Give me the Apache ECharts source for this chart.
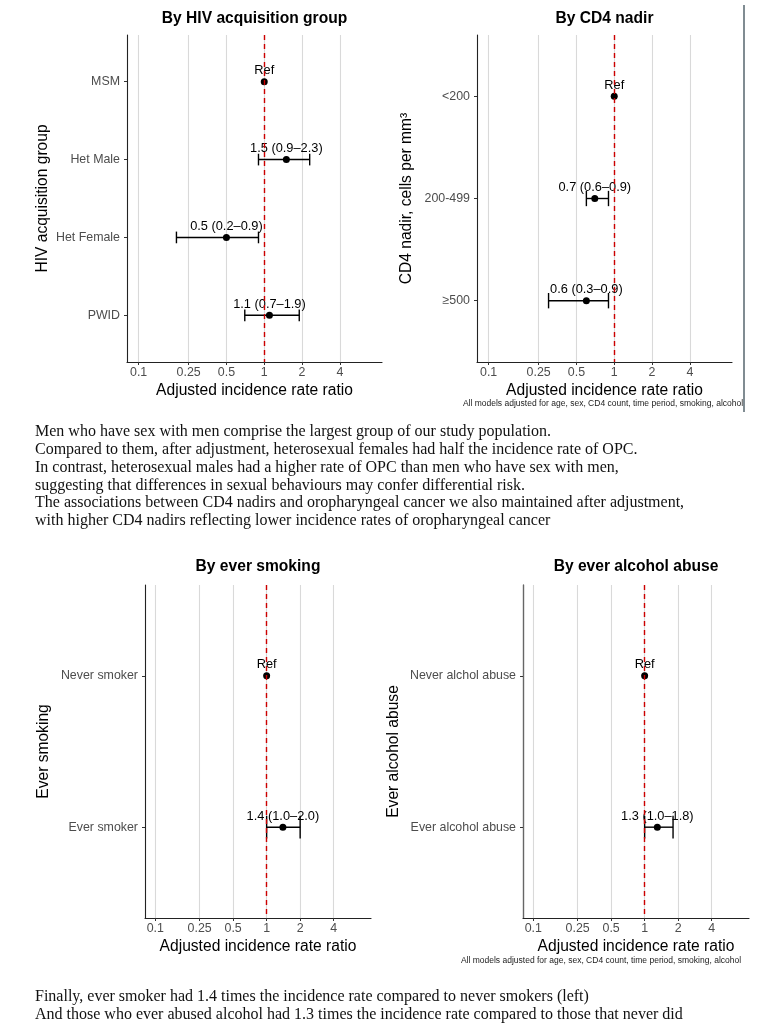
<!DOCTYPE html>
<html>
<head>
<meta charset="utf-8">
<title>OPC incidence rate ratios</title>
<script src="https://cdn.jsdelivr.net/npm/echarts@6/dist/echarts.min.js"></script>
<style>
  html, body { margin: 0; padding: 0; background: #fff; }
  #main { width: 779px; height: 1030px; }
</style>
</head>
<body>
<div id="main"></div>
<script>
  // x axis (log scale) ticks and range
  const xTicks = [0.1, 0.25, 0.5, 1, 2, 4];
  const xMin = 0.0808;
  const xMax = 8.66;

  // By HIV acquisition group
  const hivGroups = ['MSM', 'Het Male', 'Het Female', 'PWID'];
  const hivIrr = [1, 1.5, 0.5, 1.1];
  const hivLow = [null, 0.9, 0.2, 0.7];
  const hivHigh = [null, 2.3, 0.9, 1.9];
  const hivText = ['Ref', '1.5 (0.9–2.3)', '0.5 (0.2–0.9)', '1.1 (0.7–1.9)'];

  // By CD4 nadir
  const cd4Groups = ['<200', '200-499', '≥500'];
  const cd4Irr = [1, 0.7, 0.6];
  const cd4Low = [null, 0.6, 0.3];
  const cd4High = [null, 0.9, 0.9];
  const cd4Text = ['Ref', '0.7 (0.6–0.9)', '0.6 (0.3–0.9)'];

  // By ever smoking
  const smokeGroups = ['Never smoker', 'Ever smoker'];
  const smokeIrr = [1, 1.4];
  const smokeLow = [null, 1.0];
  const smokeHigh = [null, 2.0];
  const smokeText = ['Ref', '1.4 (1.0–2.0)'];

  // By ever alcohol abuse
  const alcGroups = ['Never alchol abuse', 'Ever alcohol abuse'];
  const alcIrr = [1, 1.3];
  const alcLow = [null, 1.0];
  const alcHigh = [null, 1.8];
  const alcText = ['Ref', '1.3 (1.0–1.8)'];

  const panels = [
    { title: 'By HIV acquisition group', yName: 'HIV acquisition group', groups: hivGroups, irr: hivIrr, low: hivLow, high: hivHigh, text: hivText,
      box: { left: 127, top: 35, width: 255, height: 327 }, titleTop: 11, yGap: 76 },
    { title: 'By CD4 nadir', yName: 'CD4 nadir, cells per mm³', groups: cd4Groups, irr: cd4Irr, low: cd4Low, high: cd4High, text: cd4Text,
      box: { left: 477, top: 35, width: 255, height: 327 }, titleTop: 11, yGap: 62 },
    { title: 'By ever smoking', yName: 'Ever smoking', groups: smokeGroups, irr: smokeIrr, low: smokeLow, high: smokeHigh, text: smokeText,
      box: { left: 145, top: 585, width: 226, height: 333 }, titleTop: 559, yGap: 93 },
    { title: 'By ever alcohol abuse', yName: 'Ever alcohol abuse', groups: alcGroups, irr: alcIrr, low: alcLow, high: alcHigh, text: alcText,
      box: { left: 523, top: 585, width: 226, height: 333 }, titleTop: 559, yGap: 121 }
  ];

  const sans = 'Liberation Sans, Arial, sans-serif';
  const serif = 'Liberation Serif, Times New Roman, serif';

  // whisker with caps, cap height 0.15 category units
  function errorBar(params, api) {
    const y = api.value(2);
    const a = api.coord([api.value(0), y]);
    const b = api.coord([api.value(1), y]);
    const c = api.coord([api.value(0), y + 0.075]);
    const h = Math.abs(c[1] - a[1]);
    const style = { stroke: '#000', lineWidth: 1.4 };
    return {
      type: 'group',
      children: [
        { type: 'line', shape: { x1: a[0], y1: a[1], x2: b[0], y2: b[1] }, style: style },
        { type: 'line', shape: { x1: a[0], y1: a[1] - h, x2: a[0], y2: a[1] + h }, style: style },
        { type: 'line', shape: { x1: b[0], y1: b[1] - h, x2: b[0], y2: b[1] + h }, style: style }
      ]
    };
  }

  const grid = [], xAxis = [], yAxis = [], series = [], title = [];

  panels.forEach(function (p, k) {
    const yVals = p.groups.map(function (g, i) { return i + 1; });
    grid.push(p.box);
    title.push({
      text: p.title, left: p.box.left + p.box.width / 2, top: p.titleTop, textAlign: 'center', padding: 0,
      textStyle: { fontFamily: sans, fontSize: 15.6, fontWeight: 'bold', color: '#000' }
    });
    xAxis.push({
      gridIndex: k, type: 'log', logBase: 2, min: xMin, max: xMax,
      name: 'Adjusted incidence rate ratio', nameLocation: 'middle', nameGap: 21,
      nameTextStyle: { fontFamily: sans, fontSize: 15.6, color: '#000' },
      axisLine: { show: true, onZero: false, lineStyle: { color: '#222', width: 1.1 } },
      axisTick: { show: true, length: 3, customValues: xTicks, lineStyle: { color: '#333' } },
      axisLabel: {
        customValues: xTicks, margin: 5, fontFamily: sans, fontSize: 12.4, color: '#4d4d4d',
        formatter: function (v) { return String(Math.round(v * 100) / 100); }
      },
      splitLine: { show: true, lineStyle: { color: '#d9d9d9', width: 1.1 } }
    });
    yAxis.push({
      gridIndex: k, type: 'value', inverse: true, min: 0.4, max: p.groups.length + 0.6,
      name: p.yName, nameLocation: 'middle', nameGap: p.yGap, nameRotate: 90,
      nameTextStyle: { fontFamily: sans, fontSize: 15.6, color: '#000' },
      axisLine: { show: true, onZero: false, lineStyle: { color: k === 3 ? '#666' : '#222', width: k === 3 ? 1.4 : 1.1 } },
      axisTick: { show: true, length: 3, customValues: yVals, lineStyle: { color: '#333' } },
      axisLabel: {
        customValues: yVals, margin: 7, fontFamily: sans, fontSize: 12.4, color: '#4d4d4d',
        formatter: function (v) { return p.groups[Math.round(v) - 1]; }
      },
      splitLine: { show: false }
    });

    const bars = [];
    p.groups.forEach(function (g, i) {
      if (p.low[i] != null) bars.push([p.low[i], p.high[i], i + 1]);
    });
    series.push({
      type: 'custom', xAxisIndex: k, yAxisIndex: k, z: 2,
      renderItem: errorBar, encode: { x: [0, 1], y: 2 }, data: bars,
      markLine: {
        silent: true, symbol: 'none', label: { show: false },
        lineStyle: { color: '#cc0000', type: [5, 4], width: 1.4 },
        data: [{ xAxis: 1 }]
      }
    });
    series.push({
      type: 'scatter', xAxisIndex: k, yAxisIndex: k, z: 3,
      symbolSize: 7, itemStyle: { color: '#000', opacity: 1 },
      data: p.groups.map(function (g, i) { return [p.irr[i], i + 1]; }),
      label: {
        show: true, position: 'top', distance: 1,
        fontFamily: sans, fontSize: 12.8, color: '#000',
        formatter: function (d) { return p.text[d.dataIndex]; }
      }
    });
  });

  const topNote = [
    'Men who have sex with men comprise the largest group of our study population.',
    'Compared to them, after adjustment, heterosexual females had half the incidence rate of OPC.',
    'In contrast, heterosexual males had a higher rate of OPC than men who have sex with men,',
    'suggesting that differences in sexual behaviours may confer differential risk.',
    'The associations between CD4 nadirs and oropharyngeal cancer we also maintained after adjustment,',
    'with higher CD4 nadirs reflecting lower incidence rates of oropharyngeal cancer'
  ];
  const bottomNote = [
    'Finally, ever smoker had 1.4 times the incidence rate compared to never smokers (left)',
    'And those who ever abused alcohol had 1.3 times the incidence rate compared to those that never did'
  ];
  const caption = 'All models adjusted for age, sex, CD4 count, time period, smoking, alcohol';

  const chart = echarts.init(document.getElementById('main'), null, { renderer: 'canvas' });
  chart.setOption({
    backgroundColor: '#fff',
    animation: false,
    title: title,
    grid: grid,
    xAxis: xAxis,
    yAxis: yAxis,
    series: series,
    graphic: [
      { type: 'line', shape: { x1: 744, y1: 5, x2: 744, y2: 412 }, style: { stroke: '#56666e', lineWidth: 1.5 } },
      { type: 'text', style: { x: 603, y: 404, text: caption, align: 'center', verticalAlign: 'middle', font: '8.5px ' + sans, fill: '#222' } },
      { type: 'text', style: { x: 601, y: 961, text: caption, align: 'center', verticalAlign: 'middle', font: '8.5px ' + sans, fill: '#222' } },
      { type: 'text', style: { x: 35, y: 423, text: topNote.join('\n'), lineHeight: 17.8, verticalAlign: 'top', font: '16px ' + serif, fill: '#111' } },
      { type: 'text', style: { x: 35, y: 988, text: bottomNote.join('\n'), lineHeight: 17.8, verticalAlign: 'top', font: '16px ' + serif, fill: '#111' } }
    ]
  });
</script>
</body>
</html>
